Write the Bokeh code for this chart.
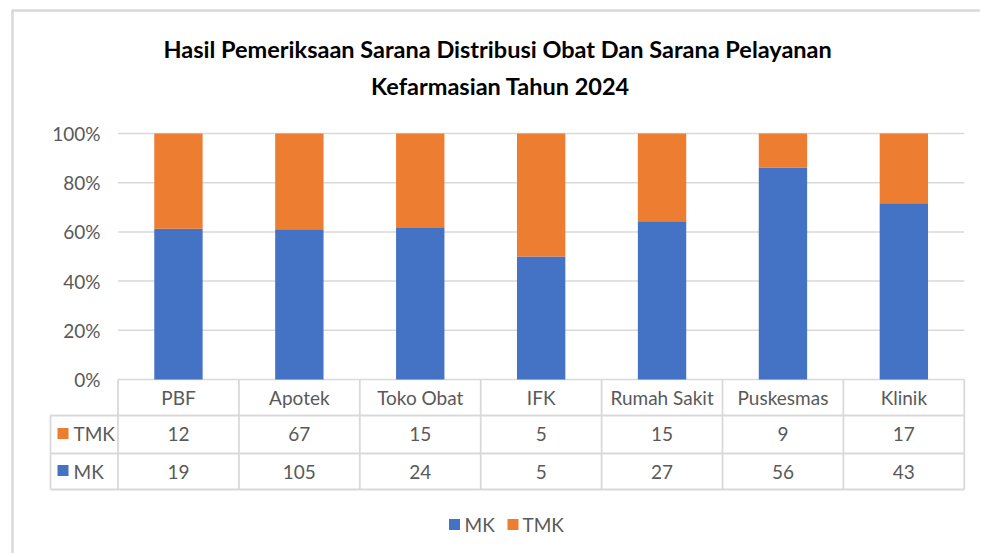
from bokeh.plotting import figure
from bokeh.models import Range1d
from bokeh.core.properties import value
from bokeh.embed import file_html
from bokeh.resources import INLINE

# ---- data ----
categories = ["PBF", "Apotek", "Toko Obat", "IFK", "Rumah Sakit", "Puskesmas", "Klinik"]
mk = [19, 105, 24, 5, 27, 56, 43]
tmk = [12, 67, 15, 5, 15, 9, 17]
series_names = ["MK", "TMK"]
y_ticks = [0, 20, 40, 60, 80, 100]
y_tick_labels = ["0%", "20%", "40%", "60%", "80%", "100%"]
title_lines = ["Hasil Pemeriksaan Sarana Distribusi  Obat Dan Sarana Pelayanan",
               "Kefarmasian Tahun 2024"]

# ---- style ----
BLUE = "#4472C4"
ORANGE = "#ED7D31"
GRID = "#D9D9D9"
TXT = "#595959"
FONT = value("Lato")

W, H = 980, 553
OFF = 0  # page offset of the canvas
# layout helpers: page pixel -> data units
X0, XU = 117.5, 120.9      # page x of category 0 edge, px per category
Y0, YU = 379.0, 2.46       # page y of 0%, px per percent
def X(px):
    return (px - X0) / XU
def Y(py):
    return (Y0 - py) / YU

p = figure(width=W, height=H, output_backend="svg", toolbar_location=None,
           x_range=Range1d(X(OFF), X(OFF + W)), y_range=Range1d(Y(OFF + H), Y(OFF)),
           min_border=0, outline_line_color=None)
p.axis.visible = False
p.grid.visible = False
p.background_fill_color = "white"
p.border_fill_color = "white"

n = len(categories)
centers = [i + 0.5 for i in range(n)]
tot = [a + b for a, b in zip(mk, tmk)]
pct_mk = [100.0 * a / t for a, t in zip(mk, tot)]

# chart border (top / left)
p.line([X(11), X(OFF + W)], [Y(10), Y(10)], line_color=GRID, line_width=2.5)
p.line([X(12), X(12)], [Y(10), Y(OFF + H)], line_color=GRID, line_width=2.5)

# gridlines
p.segment(x0=[0] * len(y_ticks), x1=[n] * len(y_ticks), y0=y_ticks, y1=y_ticks,
          line_color=GRID, line_width=1.5)

# bars
p.vbar(x=centers, width=0.4, bottom=0, top=pct_mk, fill_color=BLUE, line_color=None)
p.vbar(x=centers, width=0.4, bottom=pct_mk, top=100, fill_color=ORANGE, line_color=None)

# y tick labels
p.text(x=[X(100)] * len(y_ticks), y=y_ticks, text=y_tick_labels, text_align="right",
       text_baseline="middle", text_font=FONT, text_font_size="19px", text_color=TXT)

# data table lines
r_top, r_tmk, r_mk, r_bot = Y(379), Y(415), Y(453), Y(489)
p.segment(x0=[X(50)] * 3, x1=[n] * 3, y0=[r_tmk, r_mk, r_bot], y1=[r_tmk, r_mk, r_bot],
          line_color=GRID, line_width=1.8)
p.segment(x0=list(range(n + 1)), x1=list(range(n + 1)), y0=[r_top] * (n + 1),
          y1=[r_bot] * (n + 1), line_color=GRID, line_width=1.8)
p.segment(x0=[X(50)], x1=[X(50)], y0=[r_tmk], y1=[r_bot], line_color=GRID, line_width=1.8)

# table texts
p.text(x=centers, y=[Y(397)] * n, text=categories, text_align="center", text_baseline="middle",
       text_font=FONT, text_font_size="19px", text_color=TXT)
p.text(x=centers, y=[Y(433)] * n, text=[str(v) for v in tmk], text_align="center",
       text_baseline="middle", text_font=FONT, text_font_size="19px", text_color=TXT)
p.text(x=centers, y=[Y(471)] * n, text=[str(v) for v in mk], text_align="center",
       text_baseline="middle", text_font=FONT, text_font_size="19px", text_color=TXT)

# row headers
p.scatter(x=[X(62.5), X(62.5)], y=[Y(433), Y(470)], marker="square", size=11,
          fill_color=[ORANGE, BLUE], line_color=None)
p.text(x=[X(73), X(73)], y=[Y(433), Y(471)], text=[series_names[1], series_names[0]],
       text_align="left", text_baseline="middle", text_font=FONT, text_font_size="19px",
       text_color=TXT)

# legend
p.scatter(x=[X(454), X(512.5)], y=[Y(524), Y(524)], marker="square", size=11,
          fill_color=[BLUE, ORANGE], line_color=None)
p.text(x=[X(464), X(522)], y=[Y(524), Y(524)], text=series_names, text_align="left",
       text_baseline="middle", text_font=FONT, text_font_size="19px", text_color=TXT)

# title
p.text(x=[X(500), X(500)], y=[Y(48), Y(85)], text=title_lines, text_align="center",
       text_baseline="middle", text_font=FONT, text_font_size="23.5px", text_font_style="bold",
       text_color="#000000")

open("out.html", "w").write(file_html(p, INLINE))
